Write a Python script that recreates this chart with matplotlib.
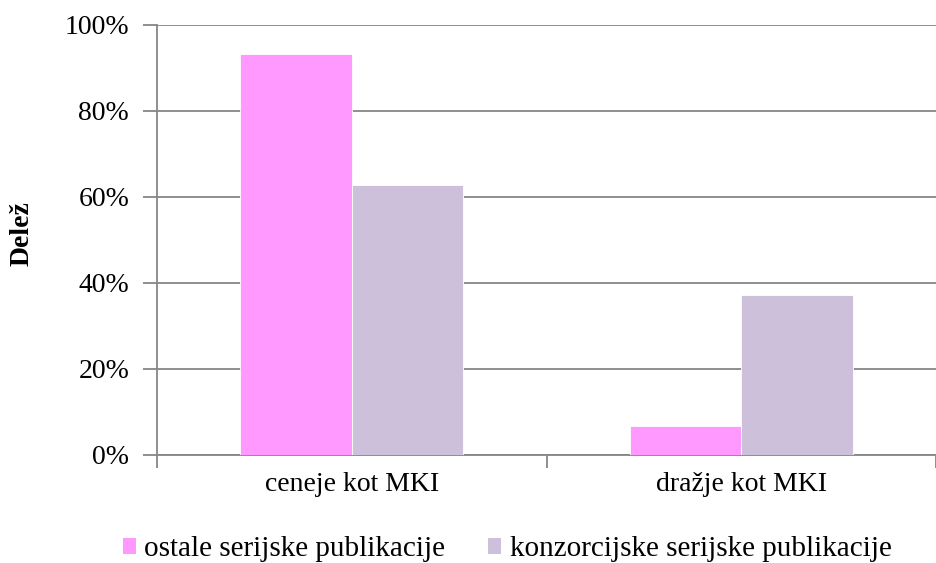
import matplotlib
matplotlib.use("Agg")
import matplotlib.pyplot as plt
from matplotlib.patches import Patch
import numpy as np

plt.rcParams['font.family'] = ['Liberation Serif', 'DejaVu Serif']

categories = ["ceneje kot MKI", "dražje kot MKI"]
series_names = ["ostale serijske publikacije", "konzorcijske serijske publikacije"]
ostale = [0.932, 0.068]
konzorcijske = [0.629, 0.371]
y_ticks = [0, 0.2, 0.4, 0.6, 0.8, 1.0]
y_ticklabels = ["0%", "20%", "40%", "60%", "80%", "100%"]

colors = ["#FF99FF", "#CCC0DA"]
grid_c = "#868686"

W, H = 936, 563
fig = plt.figure(figsize=(W / 100, H / 100), dpi=100)
left = 157 / W
bottom = 1 - 455 / H
top = 1 - 25 / H
ax = fig.add_axes([left, bottom, 1 - left, top - bottom])

x = np.arange(len(categories)) + 0.5
bw = 113 / 395
ax.bar(x - bw / 2, ostale, bw, color=colors[0], edgecolor="white", linewidth=0.6, zorder=3)
ax.bar(x + bw / 2, konzorcijske, bw, color=colors[1], edgecolor="white", linewidth=0.6, zorder=3)

ax.set_xlim(0, (W - 157) / 395)
ax.set_ylim(0, 1.0)
ax.set_yticks(y_ticks)
ax.set_yticklabels(y_ticklabels, fontsize=20)
ax.yaxis.grid(True, color=grid_c, linewidth=1.3, zorder=0)
ax.set_axisbelow(True)

ax.set_xticks([0, 1, 2])
ax.set_xticklabels([])
ax.set_xticks(x, minor=True)
ax.set_xticklabels(categories, minor=True, fontsize=20)
ax.tick_params(axis="x", which="minor", length=0, pad=12)
ax.tick_params(axis="x", which="major", length=9, width=1.3, color=grid_c, direction="out")
ax.tick_params(axis="y", length=10, width=1.3, color=grid_c, direction="out", pad=10)

for s in ["top", "right"]:
    ax.spines[s].set_visible(False)
for s in ["left", "bottom"]:
    ax.spines[s].set_color(grid_c)
    ax.spines[s].set_linewidth(1.3)

fig.text(22 / W, 1 - 234 / H, "Delež", fontsize=20, fontweight="bold",
         rotation=90, ha="center", va="center")

handles = [Patch(facecolor=colors[0]), Patch(facecolor=colors[1])]
fig.legend(handles, series_names, loc="center", bbox_to_anchor=(507 / W, 1 - 549 / H),
           ncol=2, frameon=False, fontsize=21, handlelength=0.47, handleheight=0.47,
           handletextpad=0.28, columnspacing=1.45, borderpad=0, borderaxespad=0)

fig.savefig("out.png", dpi=100)
